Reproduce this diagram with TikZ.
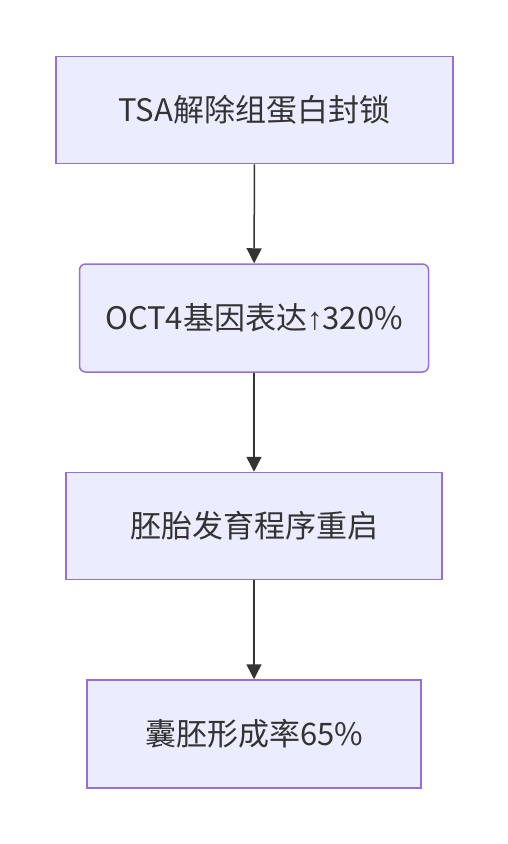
\documentclass[tikz,border=0pt]{standalone}
\usepackage{fontspec}
\setmainfont{Noto Sans CJK SC}
\newfontfamily\arrowfont{Liberation Sans}
\usetikzlibrary{arrows.meta}
\definecolor{boxfill}{HTML}{ECECFF}
\definecolor{boxline}{HTML}{9370DB}
\definecolor{ink}{HTML}{333333}

\begin{document}
\begin{tikzpicture}
      [x = 1pt, y = -1pt,
      step box/.style= {
         draw = boxline,
         fill = boxfill,
         line width = 1.5pt,
         text = ink,
         inner sep = 0pt,
         font = \fontsize{31pt}{36pt}\selectfont
      },
      link/.style= {
         draw = ink,
         line width = 1.5pt,
         -{Triangle[length = 15pt, width = 15pt]}
      }]

      \useasboundingbox (0, 0) rectangle (508, 844);

      \node[step box, minimum width = 397pt, minimum height = 107pt]
         (tsa) at (254.5, 110) {TSA解除组蛋白封锁};
      \node[step box, rounded corners = 6pt, minimum width = 349pt, minimum height = 108pt]
         (oct) at (254, 318) {OCT4基因表达{\arrowfont ↑}320\%};
      \node[step box, minimum width = 376pt, minimum height = 107pt]
         (emb) at (254, 526) {胚胎发育程序重启};
      \node[step box, minimum width = 334pt, minimum height = 108pt]
         (bla) at (254, 734) {囊胚形成率65\%};

      \draw[link] (tsa) -- (oct);
      \draw[link] (oct) -- (emb);
      \draw[link] (emb) -- (bla);

   \end{tikzpicture}
\end{document}
